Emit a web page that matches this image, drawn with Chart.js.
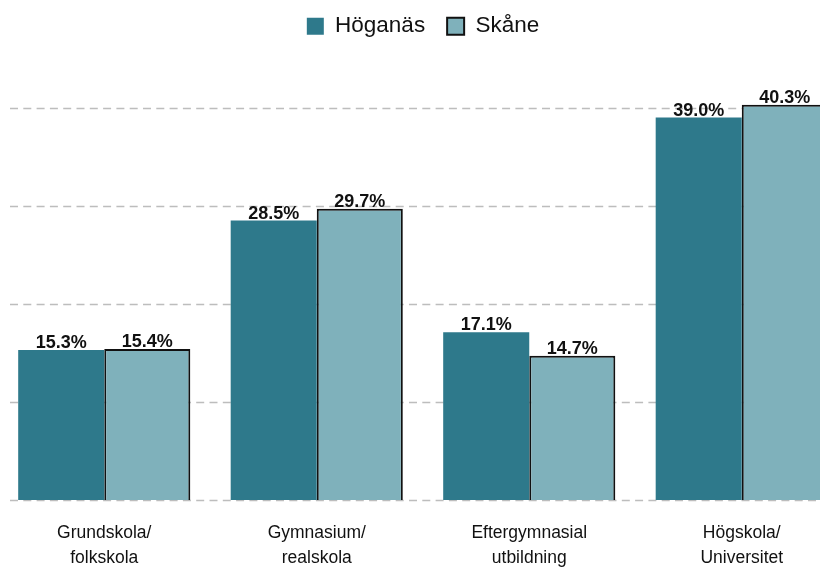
<!DOCTYPE html>
<html>
<head>
<meta charset="utf-8">
<script src="https://cdn.jsdelivr.net/npm/chart.js@4.4.1/dist/chart.umd.min.js"></script>
<style>
  html, body { margin: 0; padding: 0; background: #ffffff; overflow: hidden; }
  #wrap { position: absolute; left: -2px; top: 0; width: 850px; height: 584px; }
</style>
</head>
<body>
<div id="wrap"><canvas id="eduChart"></canvas></div>
<script>
// data
const categories = [['Grundskola/', 'folkskola'], ['Gymnasium/', 'realskola'], ['Eftergymnasial', 'utbildning'], ['Högskola/', 'Universitet']];
const hoganasValues = [15.3, 28.5, 17.1, 39.0];
const skaneValues = [15.4, 29.7, 14.7, 40.3];
const gridTicks = [0, 10, 20, 30, 40];

const FONT = "'Liberation Sans', Arial, sans-serif";

// dashed grid lines, drawn behind the bars
const dashedGrid = {
    id: 'dashedGrid',
    beforeDatasetsDraw(chart) {
        const ctx = chart.ctx;
        const y = chart.scales.y;
        ctx.save();
        ctx.strokeStyle = '#bdbdbd';
        ctx.lineWidth = 1.5;
        ctx.setLineDash([8, 5.3]);
        gridTicks.forEach(function(t) {
            const py = Math.round(y.getPixelForValue(t)) + 0.5;
            ctx.beginPath();
            ctx.moveTo(12, py);
            ctx.lineTo(chart.width, py);
            ctx.stroke();
        });
        ctx.restore();
    }
};

// percent labels above the bars
const barLabels = {
    id: 'barLabels',
    afterDatasetsDraw(chart) {
        const ctx = chart.ctx;
        ctx.save();
        ctx.font = 'bold 18px ' + FONT;
        ctx.fillStyle = '#111111';
        ctx.textAlign = 'center';
        ctx.textBaseline = 'alphabetic';
        chart.data.datasets.forEach(function(ds, i) {
            chart.getDatasetMeta(i).data.forEach(function(bar, j) {
                ctx.fillText(ds.data[j].toFixed(1) + '%', bar.x, bar.y - 2);
            });
        });
        ctx.restore();
    }
};

window.initChart = function() {
    if (typeof Chart === 'undefined') {
        console.warn("Chart.js Not Loaded.");
        return;
    }
    new Chart(document.getElementById('eduChart'), {
        type: 'bar',
        data: {
            labels: categories,
            datasets: [
                { label: 'Höganäs', data: hoganasValues, backgroundColor: '#2e798b', borderColor: '#2e798b', borderWidth: 0 },
                { label: 'Skåne', data: skaneValues, backgroundColor: '#7fb1bb', borderColor: '#111111', borderWidth: 2 }
            ]
        },
        options: {
            responsive: true,
            maintainAspectRatio: false,
            animation: false,
            layout: { padding: { top: -7, left: 0, right: 0, bottom: 0 } },
            datasets: { bar: { categoryPercentage: 0.81, barPercentage: 1.0 } },
            plugins: {
                legend: {
                    display: true,
                    position: 'top',
                    labels: {
                        font: { family: FONT, size: 22.5 },
                        color: '#111111',
                        boxWidth: 17,
                        boxHeight: 17,
                        padding: 22
                    }
                },
                tooltip: { enabled: false }
            },
            scales: {
                x: {
                    offset: true,
                    grid: { display: false },
                    border: { display: false },
                    ticks: {
                        maxRotation: 0,
                        autoSkip: false,
                        padding: 13,
                        color: '#111111',
                        font: { family: FONT, size: 17.5, lineHeight: 1.43 }
                    }
                },
                y: {
                    display: false,
                    min: 0,
                    max: 46.15
                }
            }
        },
        plugins: [dashedGrid, barLabels]
    });
};

document.addEventListener('DOMContentLoaded', () => {
    window.initChart();
});
</script>
</body>
</html>
